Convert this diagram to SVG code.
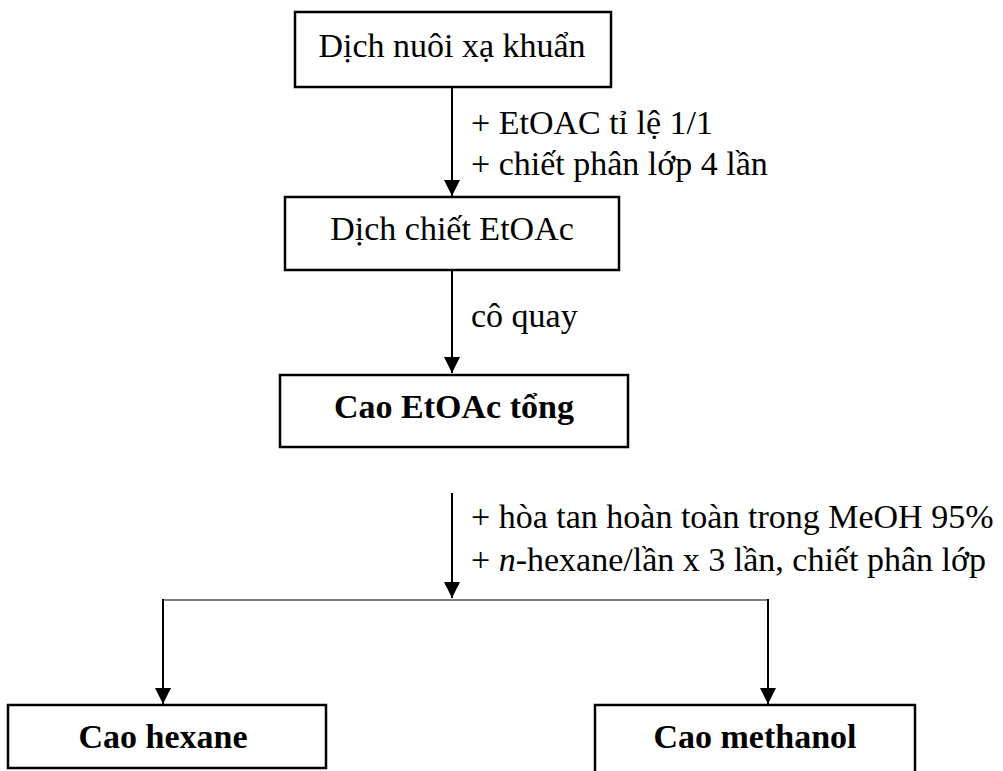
<svg xmlns="http://www.w3.org/2000/svg" width="1003" height="771" viewBox="0 0 1003 771">
<style>
.box{fill:#fff;stroke:#000;stroke-width:2.5}
.t{font-family:"Liberation Serif","Times New Roman",serif;font-size:34px;fill:#000}
.b{font-weight:bold;text-anchor:middle}
.c{text-anchor:middle}
.ln{stroke:#000;stroke-width:2;fill:none}
.thin{stroke:#000;stroke-width:1.2;fill:none}
</style>
<defs>
<marker id="ah" viewBox="0 0 10 10" refX="10" refY="5" markerWidth="16" markerHeight="16" markerUnits="userSpaceOnUse" orient="auto" preserveAspectRatio="none">
<path d="M0,0 L10,5 L0,10 Z" fill="#000"/>
</marker>
</defs>
<rect width="1003" height="771" fill="#fff"/>
<g id="connectors">
<line class="ln" x1="452" y1="88" x2="452" y2="196" marker-end="url(#ah)"/>
<line class="ln" x1="452" y1="271" x2="452" y2="373" marker-end="url(#ah)"/>
<line class="ln" x1="452" y1="493" x2="452" y2="598" marker-end="url(#ah)"/>
<line class="thin" x1="163" y1="600" x2="768" y2="600"/>
<line class="ln" x1="163" y1="599" x2="163" y2="704" marker-end="url(#ah)"/>
<line class="ln" x1="768" y1="599" x2="768" y2="704" marker-end="url(#ah)"/>
<text class="t" x="471" y="134">+ EtOAC tỉ lệ 1/1</text>
<text class="t" x="471" y="175">+ chiết phân lớp 4 lần</text>
<text class="t" x="471" y="327">cô quay</text>
<text class="t" x="471" y="528">+ hòa tan hoàn toàn trong MeOH 95%</text>
<text class="t" x="471" y="571">+ <tspan font-style="italic">n</tspan>-hexane/lần x 3 lần, chiết phân lớp</text>
</g>
<g id="n1">
<rect class="box" x="295" y="12" width="316" height="75"/>
<text class="t c" x="452" y="57">Dịch nuôi xạ khuẩn</text>
</g>
<g id="n2">
<rect class="box" x="285" y="197" width="334" height="73"/>
<text class="t c" x="452" y="240">Dịch chiết EtOAc</text>
</g>
<g id="n3">
<rect class="box" x="280" y="375" width="348" height="72"/>
<text class="t b" x="454" y="418">Cao EtOAc tổng</text>
</g>
<g id="n4">
<rect class="box" x="8" y="705" width="318" height="63"/>
<text class="t b" x="163" y="748">Cao hexane</text>
</g>
<g id="n5">
<rect class="box" x="595" y="705" width="320" height="80"/>
<text class="t b" x="755" y="748">Cao methanol</text>
</g>
</svg>
